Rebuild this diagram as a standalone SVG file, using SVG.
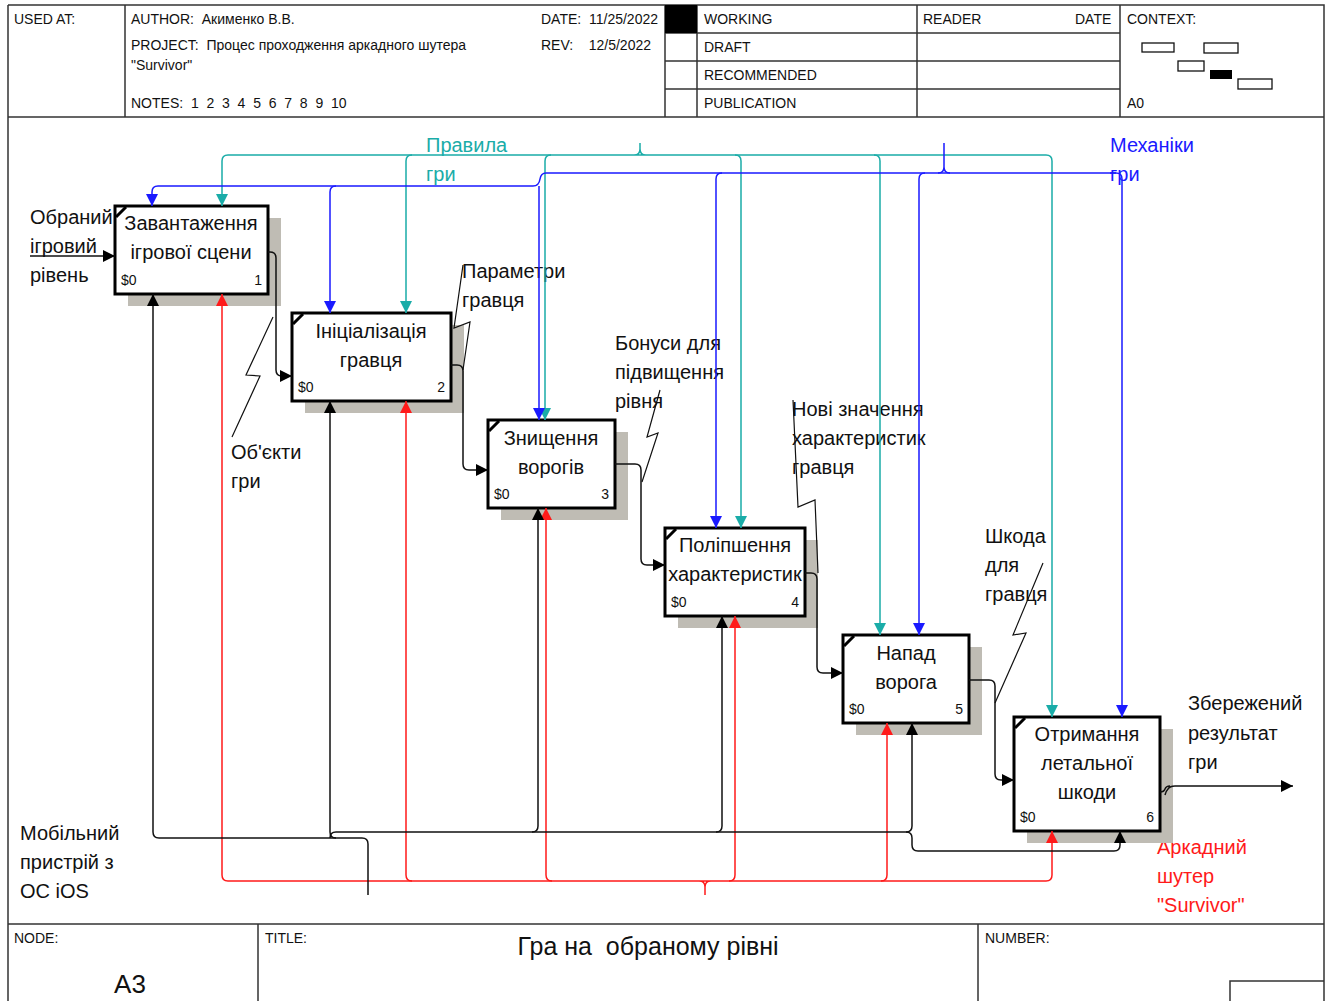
<svg xmlns="http://www.w3.org/2000/svg" width="1326" height="1001" viewBox="0 0 1326 1001">
<style>
text{font-family:"Liberation Sans",Arial,sans-serif;fill:#111;white-space:pre}
.h{font-size:14px}
.t{font-size:20px}
.b{font-size:20px;text-anchor:middle}
.s{font-size:14px}
.e{text-anchor:end}
.frame{fill:none;stroke:#333;stroke-width:1.5}
.box{fill:#fff;stroke:#000;stroke-width:3}
.sh{fill:#bfbcb4}
.cm{stroke:#000;stroke-width:3}
.k{fill:none;stroke:#111;stroke-width:1.5}
.r{fill:none;stroke:#ff1a1a;stroke-width:1.5}
.bl{fill:none;stroke:#1a1aff;stroke-width:1.5}
.tl{fill:none;stroke:#1aaca8;stroke-width:1.5}
.sq{fill:none;stroke:#111;stroke-width:1.2}
</style>
<defs>
<marker id="ak" markerWidth="12" markerHeight="14" refX="12" refY="7" orient="auto" markerUnits="userSpaceOnUse"><path d="M0,1 L12,7 L0,13 Z" fill="#000"/></marker>
<marker id="ar" markerWidth="12" markerHeight="14" refX="12" refY="7" orient="auto" markerUnits="userSpaceOnUse"><path d="M0,1 L12,7 L0,13 Z" fill="#ff1a1a"/></marker>
<marker id="ab" markerWidth="12" markerHeight="14" refX="12" refY="7" orient="auto" markerUnits="userSpaceOnUse"><path d="M0,1 L12,7 L0,13 Z" fill="#1a1aff"/></marker>
<marker id="at" markerWidth="12" markerHeight="14" refX="12" refY="7" orient="auto" markerUnits="userSpaceOnUse"><path d="M0,1 L12,7 L0,13 Z" fill="#1aaca8"/></marker>
</defs>
<rect width="1326" height="1001" fill="#fff"/>
<g id="frame">
<path class="frame" d="M8,5 H1324 V1001 M8,5 V1001 M8,117 H1324 M8,924 H1324 M125,5 V117 M665,5 V117 M697,5 V117 M917,5 V117 M1120,5 V117 M665,33 H1120 M665,61 H1120 M665,89 H1120 M258,924 V1001 M978,924 V1001 M1230,1001 V981 H1324"/>
<rect x="665" y="5" width="32" height="28" fill="#000"/>
<text class="h" x="14" y="24">USED AT:</text>
<text class="h" x="131" y="24">AUTHOR:  Акименко В.В.</text>
<text class="h" x="131" y="50">PROJECT:  Процес проходження аркадного шутера</text>
<text class="h" x="131" y="70">"Survivor"</text>
<text class="h" x="131" y="108">NOTES:  1  2  3  4  5  6  7  8  9  10</text>
<text class="h" x="541" y="24">DATE:  11/25/2022</text>
<text class="h" x="541" y="50">REV:    12/5/2022</text>
<text class="h" x="704" y="24">WORKING</text>
<text class="h" x="704" y="52">DRAFT</text>
<text class="h" x="704" y="80">RECOMMENDED</text>
<text class="h" x="704" y="108">PUBLICATION</text>
<text class="h" x="923" y="24">READER</text>
<text class="h" x="1075" y="24">DATE</text>
<text class="h" x="1127" y="24">CONTEXT:</text>
<text class="h" x="1127" y="108">A0</text>
<g fill="none" stroke="#111" stroke-width="1.3">
<rect x="1142" y="43" width="32" height="9"/>
<rect x="1204" y="43" width="34" height="10"/>
<rect x="1178" y="61" width="26" height="10"/>
<rect x="1238" y="79" width="34" height="10"/>
</g>
<rect x="1210" y="70" width="22" height="9" fill="#000"/>
<text class="h" x="14" y="943">NODE:</text>
<text class="h" x="265" y="943">TITLE:</text>
<text class="h" x="985" y="943">NUMBER:</text>
<text x="648" y="955" style="font-size:25px;text-anchor:middle">Гра на  обраному рівні</text>
<text x="130" y="993" style="font-size:26px;text-anchor:middle">А3</text>
</g>
<g id="labels">
<text class="t" x="30" y="224">Обраний</text>
<text class="t" x="30" y="253">ігровий</text>
<text class="t" x="30" y="282">рівень</text>
<text class="t" x="231" y="459">Об'єкти</text>
<text class="t" x="231" y="488">гри</text>
<text class="t" x="462" y="278">Параметри</text>
<text class="t" x="462" y="307">гравця</text>
<text class="t" x="615" y="350">Бонуси для</text>
<text class="t" x="615" y="379">підвищення</text>
<text class="t" x="615" y="408">рівня</text>
<text class="t" x="792" y="416">Нові значення</text>
<text class="t" x="792" y="445">характеристик</text>
<text class="t" x="792" y="474">гравця</text>
<text class="t" x="985" y="543">Шкода</text>
<text class="t" x="985" y="572">для</text>
<text class="t" x="985" y="601">гравця</text>
<text class="t" x="1188" y="710">Збережений</text>
<text class="t" x="1188" y="740">результат</text>
<text class="t" x="1188" y="769">гри</text>
<text class="t" x="20" y="840">Мобільний</text>
<text class="t" x="20" y="869">пристрій з</text>
<text class="t" x="20" y="898">ОС iOS</text>
<text class="t" x="1157" y="854" style="fill:#ff1a1a">Аркадний</text>
<text class="t" x="1157" y="883" style="fill:#ff1a1a">шутер</text>
<text class="t" x="1157" y="912" style="fill:#ff1a1a">"Survivor"</text>
<text class="t" x="426" y="152" style="fill:#1aaca8">Правила</text>
<text class="t" x="426" y="181" style="fill:#1aaca8">гри</text>
<text class="t" x="1110" y="152" style="fill:#1a1aff">Механіки</text>
<text class="t" x="1110" y="181" style="fill:#1a1aff">гри</text>
</g>
<g id="node1">
<rect class="sh" x="128" y="218" width="153" height="88"/>
<rect class="box" x="115" y="206" width="153" height="88"/>
<line class="cm" x1="116" y1="217" x2="126" y2="207"/>
<text class="b" x="191" y="230">Завантаження</text>
<text class="b" x="191" y="259">ігрової сцени</text>
<text class="s" x="121" y="285">$0</text>
<text class="s e" x="262" y="285">1</text>
</g>
<g id="node2">
<rect class="sh" x="305" y="325" width="159" height="88"/>
<rect class="box" x="292" y="313" width="159" height="88"/>
<line class="cm" x1="293" y1="324" x2="303" y2="314"/>
<text class="b" x="371" y="338">Ініціалізація</text>
<text class="b" x="371" y="367">гравця</text>
<text class="s" x="298" y="392">$0</text>
<text class="s e" x="445" y="392">2</text>
</g>
<g id="node3">
<rect class="sh" x="501" y="432" width="127" height="88"/>
<rect class="box" x="488" y="420" width="127" height="88"/>
<line class="cm" x1="489" y1="431" x2="499" y2="421"/>
<text class="b" x="551" y="445">Знищення</text>
<text class="b" x="551" y="474">ворогів</text>
<text class="s" x="494" y="499">$0</text>
<text class="s e" x="609" y="499">3</text>
</g>
<g id="node4">
<rect class="sh" x="678" y="540" width="140" height="88"/>
<rect class="box" x="665" y="528" width="140" height="88"/>
<line class="cm" x1="666" y1="539" x2="676" y2="529"/>
<text class="b" x="735" y="552">Поліпшення</text>
<text class="b" x="735" y="581">характеристик</text>
<text class="s" x="671" y="607">$0</text>
<text class="s e" x="799" y="607">4</text>
</g>
<g id="node5">
<rect class="sh" x="856" y="647" width="126" height="88"/>
<rect class="box" x="843" y="635" width="126" height="88"/>
<line class="cm" x1="844" y1="646" x2="854" y2="636"/>
<text class="b" x="906" y="660">Напад</text>
<text class="b" x="906" y="689">ворога</text>
<text class="s" x="849" y="714">$0</text>
<text class="s e" x="963" y="714">5</text>
</g>
<g id="node6">
<rect class="sh" x="1027" y="729" width="146" height="114"/>
<rect class="box" x="1014" y="717" width="146" height="114"/>
<line class="cm" x1="1015" y1="728" x2="1025" y2="718"/>
<text class="b" x="1087" y="741">Отримання</text>
<text class="b" x="1087" y="770">летальної</text>
<text class="b" x="1087" y="799">шкоди</text>
<text class="s" x="1020" y="822">$0</text>
<text class="s e" x="1154" y="822">6</text>
</g>
<g id="connectors">
<path class="tl" d="M640,143 V149 q0,6 -6,6 M640,149 q0,6 6,6 M228,155 H1046"/>
<path class="tl" d="M228,155 q-6,0 -6,6 V206" marker-end="url(#at)"/>
<path class="tl" d="M412,155 q-6,0 -6,6 V313" marker-end="url(#at)"/>
<path class="tl" d="M551,155 q-6,0 -6,6 V420" marker-end="url(#at)"/>
<path class="tl" d="M735,155 q6,0 6,6 V528" marker-end="url(#at)"/>
<path class="tl" d="M874,155 q6,0 6,6 V635" marker-end="url(#at)"/>
<path class="tl" d="M1046,155 q6,0 6,6 V717" marker-end="url(#at)"/>
<path class="bl" d="M944,143 V167 q0,6 -6,6 M944,167 q0,6 6,6"/>
<path class="bl" d="M1116,173 H546 q-5,0 -6,6 q-1,7 -7,7 H158 q-6,0 -6,6 V206" marker-end="url(#ab)"/>
<path class="bl" d="M1110,173 H1116 q6,0 6,6 V717" marker-end="url(#ab)"/>
<path class="bl" d="M336,186 q-6,0 -6,6 V313" marker-end="url(#ab)"/>
<path class="bl" d="M539,186 V420" marker-end="url(#ab)"/>
<path class="bl" d="M722,173 q-6,0 -6,6 V528" marker-end="url(#ab)"/>
<path class="bl" d="M925,173 q-6,0 -6,6 V635" marker-end="url(#ab)"/>
<path class="r" d="M705,895 V887 q0,-6 -6,-6 M705,887 q0,-6 6,-6 M228,881 H1046"/>
<path class="r" d="M228,881 q-6,0 -6,-6 V294" marker-end="url(#ar)"/>
<path class="r" d="M412,881 q-6,0 -6,-6 V401" marker-end="url(#ar)"/>
<path class="r" d="M552,881 q-6,0 -6,-6 V508" marker-end="url(#ar)"/>
<path class="r" d="M729,881 q6,0 6,-6 V616" marker-end="url(#ar)"/>
<path class="r" d="M881,881 q6,0 6,-6 V723" marker-end="url(#ar)"/>
<path class="r" d="M1046,881 q6,0 6,-6 V831" marker-end="url(#ar)"/>
<path class="k" d="M368,895 V844 q0,-6 -6,-6 H159 q-6,0 -6,-6 V294" marker-end="url(#ak)"/>
<path class="k" d="M336,838 q-6,0 -6,-6 V401" marker-end="url(#ak)"/>
<path class="k" d="M330,838 q0,-6 6,-6 H906"/>
<path class="k" d="M532,832 q6,0 6,-6 V508" marker-end="url(#ak)"/>
<path class="k" d="M716,832 q6,0 6,-6 V616" marker-end="url(#ak)"/>
<path class="k" d="M906,832 q6,0 6,-6 V723" marker-end="url(#ak)"/>
<path class="k" d="M906,832 q6,0 6,6 v7 q0,6 6,6 H1114 q6,0 6,-6 V831" marker-end="url(#ak)"/>
<path class="k" d="M30,256 H115" marker-end="url(#ak)"/>
<path class="k" d="M268,252 H270 q6,0 6,6 V370 q0,6 6,6 H292" marker-end="url(#ak)"/>
<path class="k" d="M451,365 H457 q6,0 6,6 V464 q0,6 6,6 H488" marker-end="url(#ak)"/>
<path class="k" d="M615,464 H635 q6,0 6,6 V559 q0,6 6,6 H665" marker-end="url(#ak)"/>
<path class="k" d="M805,573 H811 q6,0 6,6 V667 q0,6 6,6 H843" marker-end="url(#ak)"/>
<path class="k" d="M969,680 H989 q6,0 6,6 V774 q0,6 6,6 H1014" marker-end="url(#ak)"/>
<path class="k" d="M1160,792 q4,0 5,-3 q1,-3 5,-3 M1165,795 q1,-4 3,-6 q2,-3 7,-3 H1293" marker-end="url(#ak)"/>
<path class="sq" d="M273,317 L246,375 L260,376 L232,437"/>
<path class="sq" d="M463,265 L454,328 L470,322 L463,370"/>
<path class="sq" d="M660,390 L647,437 L658,433 L642,482"/>
<path class="sq" d="M793,400 L798,507 L815,500 L818,573"/>
<path class="sq" d="M1043,563 L1013,635 L1026,633 L995,703"/>
</g>
</svg>
